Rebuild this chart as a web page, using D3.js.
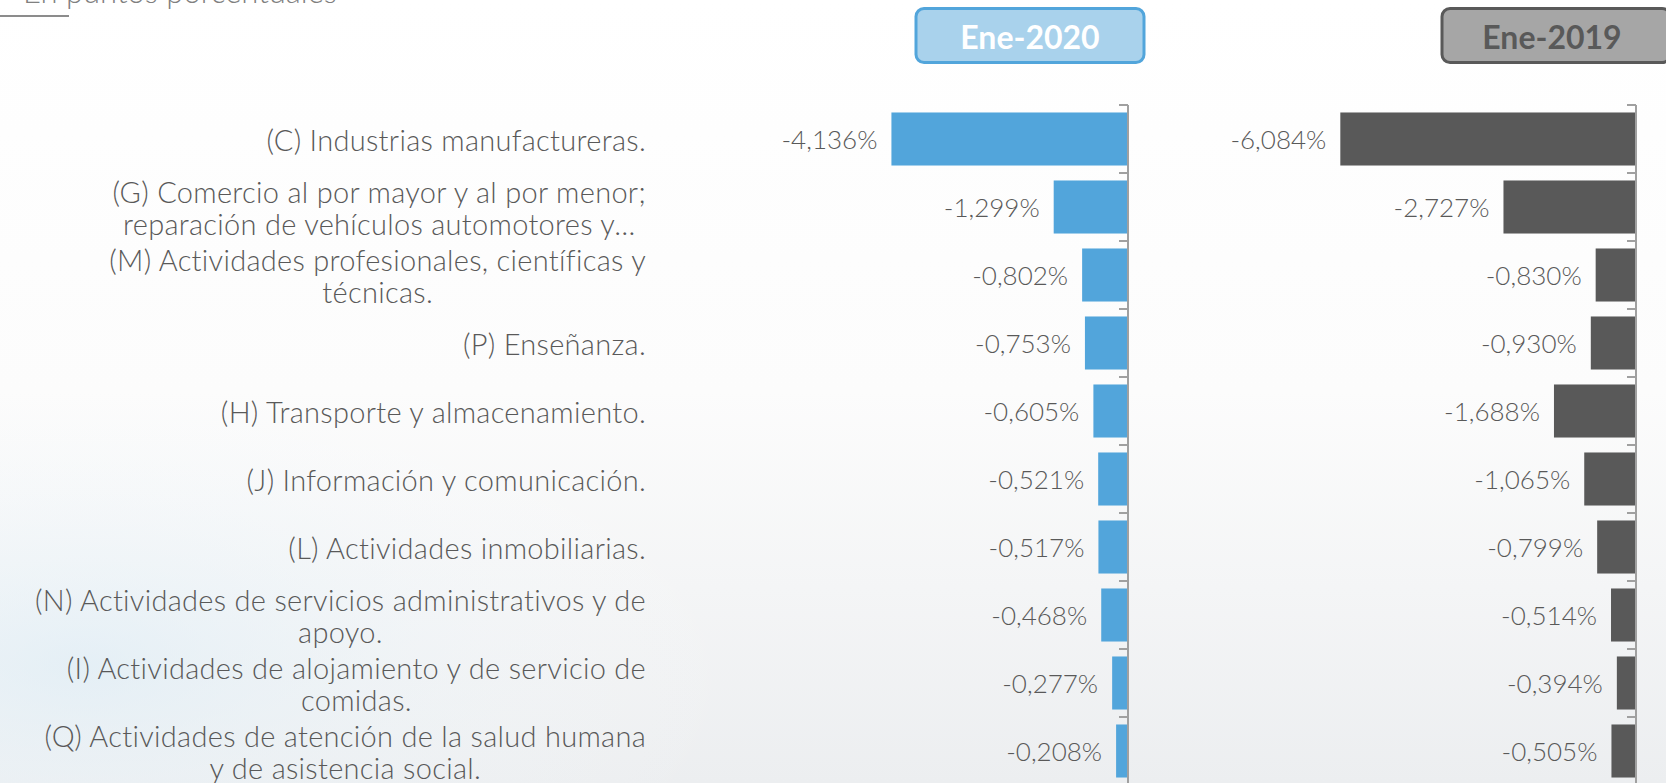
<!DOCTYPE html>
<html>
<head>
<meta charset="UTF-8" />
<title>Ene-2020 vs Ene-2019</title>
<script src="https://d3js.org/d3.v7.min.js"></script>
<style>
  body {
    margin: 0;
    overflow: hidden;
    background: #ffffff;
    font-family: "Lato", "Open Sans", sans-serif;
  }
  svg { display: block; }
  .cat { fill: #595959; font-size: 29px; font-weight: 300; letter-spacing: 0.3px; }
  .val { fill: #595959; font-size: 26px; font-weight: 300; }
  .head { font-size: 32px; font-weight: 700; }
</style>
</head>
<body>
<svg id="chart"></svg>
<script>
  // categories (label lines as they wrap in the picture)
  const categories = [
    ["(C) Industrias manufactureras."],
    ["(G) Comercio al por mayor y al por menor;", "reparación de vehículos automotores y…"],
    ["(M) Actividades profesionales, científicas y", "técnicas."],
    ["(P) Enseñanza."],
    ["(H) Transporte y almacenamiento."],
    ["(J) Información y comunicación."],
    ["(L) Actividades inmobiliarias."],
    ["(N) Actividades de servicios administrativos y de", "apoyo."],
    ["(I) Actividades de alojamiento y de servicio de", "comidas."],
    ["(Q) Actividades de atención de la salud humana", "y de asistencia social."]
  ];
  const ene2020 = [-4.136, -1.299, -0.802, -0.753, -0.605, -0.521, -0.517, -0.468, -0.277, -0.208];
  const ene2019 = [-6.084, -2.727, -0.830, -0.930, -1.688, -1.065, -0.799, -0.514, -0.394, -0.505];
  const seriesNames = ["Ene-2020", "Ene-2019"];
  const subtitle = "En puntos porcentuales";

  const width = 1666, height = 783;
  const svg = d3.select("#chart").attr("width", width).attr("height", height);

  // soft background
  const defs = svg.append("defs");
  const bg = defs.append("linearGradient").attr("id", "bg")
    .attr("x1", 0).attr("y1", 0).attr("x2", 0).attr("y2", 1);
  bg.append("stop").attr("offset", "0%").attr("stop-color", "#ffffff");
  bg.append("stop").attr("offset", "50%").attr("stop-color", "#fcfcfc");
  bg.append("stop").attr("offset", "100%").attr("stop-color", "#eceef0");
  const glow = defs.append("radialGradient").attr("id", "glow")
    .attr("cx", 0.05).attr("cy", 0.85).attr("r", 0.4);
  glow.append("stop").attr("offset", "0%").attr("stop-color", "#dcedf7").attr("stop-opacity", 0.6);
  glow.append("stop").attr("offset", "100%").attr("stop-color", "#ffffff").attr("stop-opacity", 0);
  svg.append("rect").attr("width", width).attr("height", height).attr("fill", "url(#bg)");
  svg.append("rect").attr("width", width).attr("height", height).attr("fill", "url(#glow)");

  // subtitle, cut off by the top edge as in the slide
  svg.append("text")
    .attr("x", 23).attr("y", 3)
    .attr("fill", "#808080")
    .style("font-size", "31px").style("font-weight", 300)
    .text(subtitle);
  svg.append("line")
    .attr("x1", 0).attr("x2", 69).attr("y1", 16).attr("y2", 16)
    .attr("stroke", "#8c8c8c").attr("stroke-width", 2);

  const y = d3.scaleBand()
    .domain(d3.range(categories.length))
    .range([105, 105 + 68 * categories.length])
    .paddingInner(0.22)
    .paddingOuter(0.11);

  const fmt = d3.formatLocale({ decimal: ",", thousands: ".", grouping: [3], currency: ["", ""], minus: "-" });
  const pct = v => fmt.format(".3f")(v) + "%";

  const panels = [
    { name: seriesNames[0], values: ene2020, color: "#52a5db",
      x: d3.scaleLinear().domain([-5, 0]).range([1128 - 5 * 57.2, 1128]),
      box: [916, 1144], boxFill: "#a9d2ec", boxStroke: "#52a5db", textFill: "#ffffff" },
    { name: seriesNames[1], values: ene2019, color: "#595959",
      x: d3.scaleLinear().domain([-7, 0]).range([1636 - 7 * 48.6, 1636]),
      box: [1442, 1670], boxFill: "#a6a6a6", boxStroke: "#595959", textFill: "#595959" }
  ];

  panels.forEach(p => {
    const g = svg.append("g");
    const x0 = p.x(0);

    g.selectAll("rect.bar")
      .data(p.values)
      .enter().append("rect")
      .attr("class", "bar")
      .attr("x", d => p.x(d))
      .attr("y", (d, i) => y(i))
      .attr("width", d => x0 - p.x(d))
      .attr("height", y.bandwidth())
      .attr("fill", p.color);

    g.selectAll("text.val")
      .data(p.values)
      .enter().append("text")
      .attr("class", "val")
      .attr("x", d => p.x(d) - 14)
      .attr("y", (d, i) => y(i) + y.bandwidth() / 2)
      .attr("text-anchor", "end")
      .attr("dominant-baseline", "central")
      .text(d => pct(d));

    // axis line with ticks between categories
    const bounds = d3.range(categories.length + 1).map(i => 105 + i * y.step());
    g.append("line")
      .attr("x1", x0).attr("x2", x0)
      .attr("y1", bounds[0]).attr("y2", bounds[bounds.length - 1])
      .attr("stroke", "#a0a0a0").attr("stroke-width", 2);
    g.selectAll("line.tick")
      .data(bounds)
      .enter().append("line")
      .attr("class", "tick")
      .attr("x1", x0 - 9).attr("x2", x0)
      .attr("y1", d => d).attr("y2", d => d)
      .attr("stroke", "#a0a0a0").attr("stroke-width", 2);

    // header box
    g.append("rect")
      .attr("x", p.box[0]).attr("y", 8.5)
      .attr("width", p.box[1] - p.box[0]).attr("height", 54)
      .attr("rx", 8)
      .attr("fill", p.boxFill)
      .attr("stroke", p.boxStroke).attr("stroke-width", 3);
    g.append("text")
      .attr("class", "head")
      .attr("x", (p.box[0] + p.box[1]) / 2 - (p.box[1] > width ? 4 : 0))
      .attr("y", 36)
      .attr("text-anchor", "middle")
      .attr("dominant-baseline", "central")
      .attr("fill", p.textFill)
      .text(p.name);
  });

  // category labels: block right-aligned, lines centred within block
  const labelRight = 646, lineH = 32;
  categories.forEach((lines, i) => {
    const cy = y(i) + y.bandwidth() / 2;
    const t = svg.append("text")
      .attr("class", "cat")
      .attr("text-anchor", "middle")
      .attr("dominant-baseline", "central");
    const spans = lines.map((l, k) => t.append("tspan")
      .attr("y", cy + (k - (lines.length - 1) / 2) * lineH)
      .text(l));
    const maxW = d3.max(spans, s => s.node().getComputedTextLength());
    spans.forEach(s => s.attr("x", labelRight - maxW / 2));
  });
</script>
</body>
</html>
